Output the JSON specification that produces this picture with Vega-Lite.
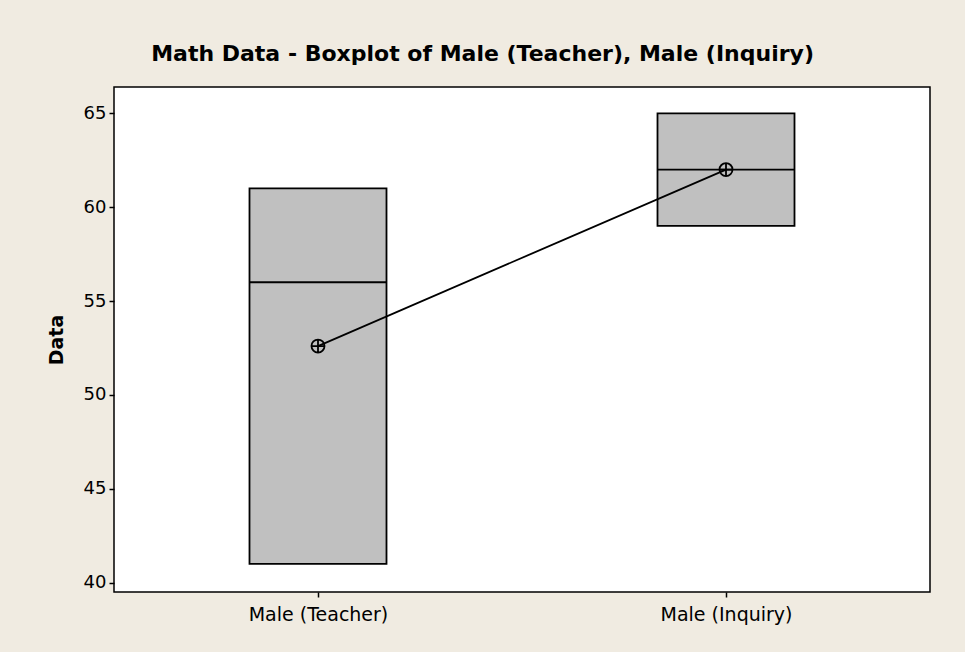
{
  "$schema": "https://vega.github.io/schema/vega-lite/v6.json",
  "autosize": "none",
  "width": 816,
  "height": 505,
  "padding": {"left": 114, "top": 87, "right": 35, "bottom": 60},
  "background": "#f0ebe1",
  "title": {
    "text": "Math Data - Boxplot of Male (Teacher), Male (Inquiry)",
    "font": "DejaVu Sans",
    "fontSize": 22,
    "fontWeight": "bold",
    "color": "black",
    "anchor": "middle",
    "frame": "bounds",
    "offset": 21,
    "dx": -6
  },
  "config": {
    "view": {"stroke": "black", "strokeWidth": 1.5, "fill": "white"},
    "axis": {
      "labelFont": "DejaVu Sans",
      "labelFontSize": 18,
      "labelColor": "black",
      "titleFont": "DejaVu Sans",
      "titleFontSize": 19,
      "titleFontWeight": "bold",
      "titleColor": "black",
      "domain": false,
      "grid": false,
      "tickColor": "black",
      "tickSize": 5,
      "tickWidth": 1.5
    }
  },
  "data": {
    "values": [
      {"group": "Male (Teacher)", "min": 41, "q1": 41, "median": 56, "q3": 61, "max": 61, "mean": 52.6},
      {"group": "Male (Inquiry)", "min": 59, "q1": 59, "median": 62, "q3": 65, "max": 65, "mean": 62}
    ]
  },
  "encoding": {
    "x": {
      "field": "group",
      "type": "nominal",
      "sort": null,
      "scale": {"type": "point", "padding": 0.5},
      "axis": {"title": null, "labelAngle": 0, "labelPadding": 8, "labelFontSize": 19}
    }
  },
  "layer": [
    {
      "mark": {"type": "bar", "fill": "#c0c0c0", "stroke": "black", "strokeWidth": 1.8, "width": 137},
      "encoding": {
        "y": {
          "field": "q1",
          "type": "quantitative",
          "scale": {"domain": [39.5, 66.4], "nice": false, "zero": false},
          "axis": {"title": "Data", "values": [40, 45, 50, 55, 60, 65], "labelPadding": 3, "titlePadding": 17}
        },
        "y2": {"field": "q3"}
      }
    },
    {
      "mark": {"type": "tick", "color": "black", "size": 137, "thickness": 1.8, "opacity": 1},
      "encoding": {"y": {"field": "median", "type": "quantitative"}}
    },
    {
      "mark": {"type": "line", "color": "black", "strokeWidth": 1.8},
      "encoding": {"y": {"field": "mean", "type": "quantitative"}}
    },
    {
      "mark": {
        "type": "point",
        "shape": "M1,0A1,1,0,1,1,-1,0A1,1,0,1,1,1,0ZM-1,0H1M0,-1V1",
        "filled": false,
        "stroke": "black",
        "strokeWidth": 1.8,
        "size": 170,
        "opacity": 1
      },
      "encoding": {"y": {"field": "mean", "type": "quantitative"}}
    }
  ]
}
